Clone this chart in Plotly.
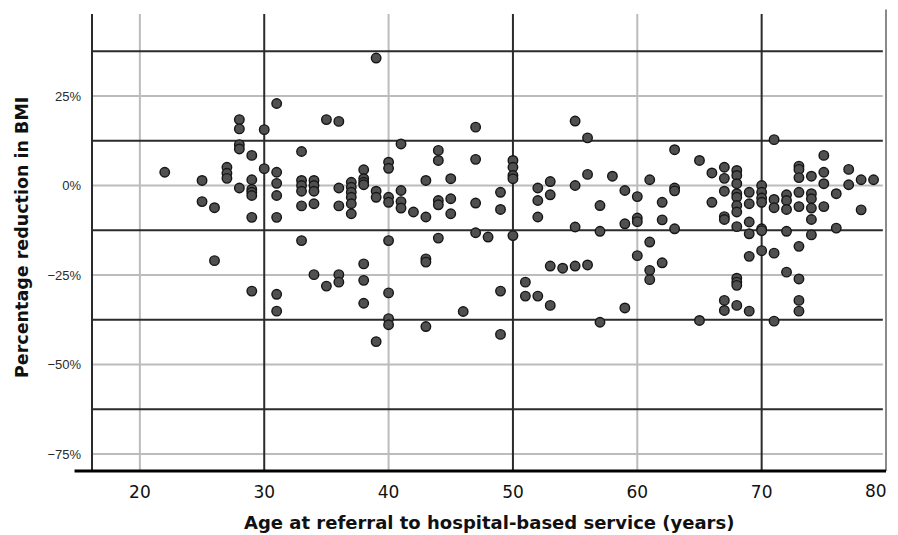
import plotly.graph_objects as go

# Data (age in years, % reduction in BMI)
age = [
    22,
    25, 25,
    26, 26,
    27, 27, 27,
    28, 28, 28, 28, 28,
    29, 29, 29, 29, 29, 29, 29,
    30, 30,
    31, 31, 31, 31, 31, 31, 31,
    33, 33, 33, 33, 33, 33,
    34, 34, 34, 34, 34,
    35, 35,
    36, 36, 36, 36, 36,
    37, 37, 37, 37, 37, 37,
    38, 38, 38, 38, 38, 38, 38,
    39, 39, 39, 39,
    40, 40, 40, 40, 40, 40, 40, 40,
    41, 41, 41, 41,
    42,
    43, 43, 43, 43, 43,
    44, 44, 44, 44, 44,
    45, 45, 45,
    46,
    47, 47, 47, 47,
    48,
    49, 49, 49, 49,
    50, 50, 50, 50, 50,
    51, 51,
    52, 52, 52, 52,
    53, 53, 53, 53,
    54,
    55, 55, 55, 55,
    56, 56, 56,
    57, 57, 57,
    58,
    59, 59, 59,
    60, 60, 60, 60,
    61, 61, 61, 61,
    62, 62, 62,
    63, 63, 63, 63,
    65, 65,
    66, 66,
    67, 67, 67, 67, 67, 67, 67,
    68, 68, 68, 68, 68, 68, 68, 68, 68, 68, 68, 68,
    69, 69, 69, 69, 69, 69,
    70, 70, 70, 70, 70, 70, 70,
    71, 71, 71, 71, 71,
    72, 72, 72, 72, 72,
    73, 73, 73, 73, 73, 73, 73, 73, 73,
    74, 74, 74, 74, 74, 74,
    75, 75, 75, 75,
    76, 76,
    77, 77,
    78, 78,
    79,
]

reduction = [
    3.7,
    1.4, -4.5,
    -6.2, -21.0,
    5.1, 3.4, 2.0,
    18.4, 15.8, 11.4, 10.2, -0.7,
    8.4, 1.6, -1.1, -1.9, -2.8, -8.9, -29.5,
    15.6, 4.7,
    22.9, 3.7, 0.6, -2.8, -8.9, -30.4, -35.1,
    9.5, 1.4, 0.0, -1.6, -5.7, -15.4,
    1.4, 0.0, -1.6, -5.1, -24.9,
    18.4, -28.1,
    17.9, -0.7, -5.7, -24.9, -27.0,
    0.9, -0.5, -1.9, -3.3, -5.1, -7.9,
    4.4, 1.9, 0.9, 0.2, -21.9, -26.5, -32.9,
    35.6, -1.6, -3.3, -43.6,
    6.5, 4.8, -3.3, -4.7, -15.4, -30.0, -37.2, -38.9,
    11.6, -1.4, -4.5, -6.3,
    -7.4,
    1.4, -8.8, -20.5, -21.4, -39.4,
    9.8, 7.0, -4.2, -5.4, -14.7,
    1.9, -3.7, -7.9,
    -35.2,
    16.3, 7.3, -4.9, -13.2,
    -14.4,
    -1.9, -6.7, -29.5, -41.6,
    7.0, 5.1, 2.8, 1.9, -14.0,
    -27.0, -30.9,
    -0.7, -4.2, -8.8, -30.9,
    1.1, -2.6, -22.5, -33.5,
    -23.1,
    18.0, 0.0, -11.6, -22.5,
    13.3, 3.1, -22.2,
    -5.6, -12.8, -38.2,
    2.6,
    -1.4, -10.7, -34.2,
    -3.1, -9.1, -10.1, -19.6,
    1.6, -15.8, -23.7, -26.3,
    -4.7, -9.6, -21.6,
    10.0, -0.7, -1.5, -12.1,
    7.0, -37.7,
    3.5, -4.7,
    5.1, 2.0, -1.6, -8.7, -9.5, -32.1, -34.9,
    4.2, 2.8, 0.5, -2.3, -3.3, -5.6, -7.4, -11.5, -25.9, -27.0, -27.9, -33.5,
    -1.9, -5.1, -10.2, -13.5, -19.8, -35.1,
    0.0, -1.9, -3.5, -4.7, -12.1, -12.6, -18.2,
    12.8, -3.9, -6.2, -18.9, -37.9,
    -2.6, -4.2, -6.7, -12.8, -24.2,
    5.4, 4.5, 2.2, -1.9, -5.9, -17.0, -26.1, -32.1, -35.1,
    2.6, -2.3, -3.7, -6.3, -9.5, -13.8,
    8.4, 3.7, 0.5, -5.9,
    -2.3, -11.9,
    4.5, 0.2,
    1.6, -6.8,
    1.6,
]

x_ticks = [20, 30, 40, 50, 60, 70, 80]
x_minor_lines = [20, 40, 60]
x_major_lines = [30, 50, 70]
y_ticks = [25, 0, -25, -50, -75]
y_tick_text = ["25%", "0%", "\u221225%", "\u221250%", "\u221275%"]
y_major_lines = [37.5, 12.5, -12.5, -37.5, -62.5]

x_title = "Age at referral to hospital-based service (years)"
y_title = "Percentage reduction in BMI"

X_RANGE = [16.15, 80.0]
Y_RANGE = [-79.75, 47.9]

LIGHT = "#bcbcbc"
DARK = "#2b2b2b"
TICK_FONT = dict(family="DejaVu Sans", size=17, color="#111111")

fig = go.Figure()

fig.add_trace(go.Scatter(
    x=age, y=reduction, mode="markers",
    marker=dict(size=9.5, color="#505050", line=dict(color="#151515", width=1.4)),
    hoverinfo="x+y", showlegend=False,
))

shapes = []
for xv in x_minor_lines:
    shapes.append(dict(type="line", xref="x", yref="paper", x0=xv, x1=xv, y0=0, y1=1,
                       line=dict(color=LIGHT, width=2), layer="below"))
for yv in y_ticks:
    shapes.append(dict(type="line", xref="paper", yref="y", x0=0, x1=0.996, y0=yv, y1=yv,
                       line=dict(color=LIGHT, width=2), layer="below"))
for xv in x_major_lines:
    shapes.append(dict(type="line", xref="x", yref="paper", x0=xv, x1=xv, y0=0, y1=1,
                       line=dict(color=DARK, width=2), layer="below"))
for yv in y_major_lines:
    shapes.append(dict(type="line", xref="paper", yref="y", x0=0, x1=0.996, y0=yv, y1=yv,
                       line=dict(color=DARK, width=2), layer="below"))
# left frame line
shapes.append(dict(type="line", xref="paper", yref="paper", x0=0, x1=0, y0=0, y1=1,
                   line=dict(color=DARK, width=2), layer="below"))
# right frame line
shapes.append(dict(type="line", xref="paper", yref="paper", x0=1, x1=1, y0=0, y1=1.01,
                   line=dict(color="#8a8a8a", width=2), layer="below"))
# thick bottom axis line
shapes.append(dict(type="line", xref="paper", yref="paper", x0=-0.022, x1=1.0, y0=0, y1=0,
                   line=dict(color="#000000", width=3)))

annotations = [
    dict(text="<b>" + x_title + "</b>", xref="paper", yref="paper", x=0.5, y=-0.1116,
         xanchor="center", yanchor="middle", showarrow=False,
         font=dict(family="DejaVu Sans", size=18, color="#111111")),
    dict(text="<b>" + y_title + "</b>", xref="paper", yref="paper", x=-0.0882, y=0.512,
         xanchor="center", yanchor="middle", showarrow=False, textangle=-90,
         font=dict(family="DejaVu Sans", size=17.5, color="#111111")),
    # last x tick label sits at the window edge; keep it fully visible
    dict(text=str(x_ticks[-1]), xref="x", yref="paper", x=x_ticks[-1], y=0,
         xanchor="right", yanchor="top", xshift=3, yshift=-8, showarrow=False,
         font=TICK_FONT),
]

# The page adds an 8 px body margin, so the figure is 8 px smaller and margins shifted.
fig.update_layout(
    width=890, height=527,
    margin=dict(l=84, r=12, t=6, b=64, autoexpand=False),
    paper_bgcolor="white", plot_bgcolor="white",
    shapes=shapes,
    annotations=annotations,
    font=dict(family="DejaVu Sans", color="#111111"),
    xaxis=dict(
        range=X_RANGE, tickvals=x_ticks[:-1], ticktext=[str(v) for v in x_ticks[:-1]],
        showgrid=False, zeroline=False, showline=False, automargin=False,
        ticks="", tickfont=TICK_FONT,
        ticklabelstandoff=9,
    ),
    yaxis=dict(
        range=Y_RANGE, tickvals=y_ticks, ticktext=y_tick_text,
        showgrid=False, zeroline=False, showline=False, automargin=False,
        ticks="", tickfont=dict(family="Liberation Sans", size=13, color="#2a2a2a"),
        ticklabelstandoff=10,
    ),
)

fig.write_html("out.html")
